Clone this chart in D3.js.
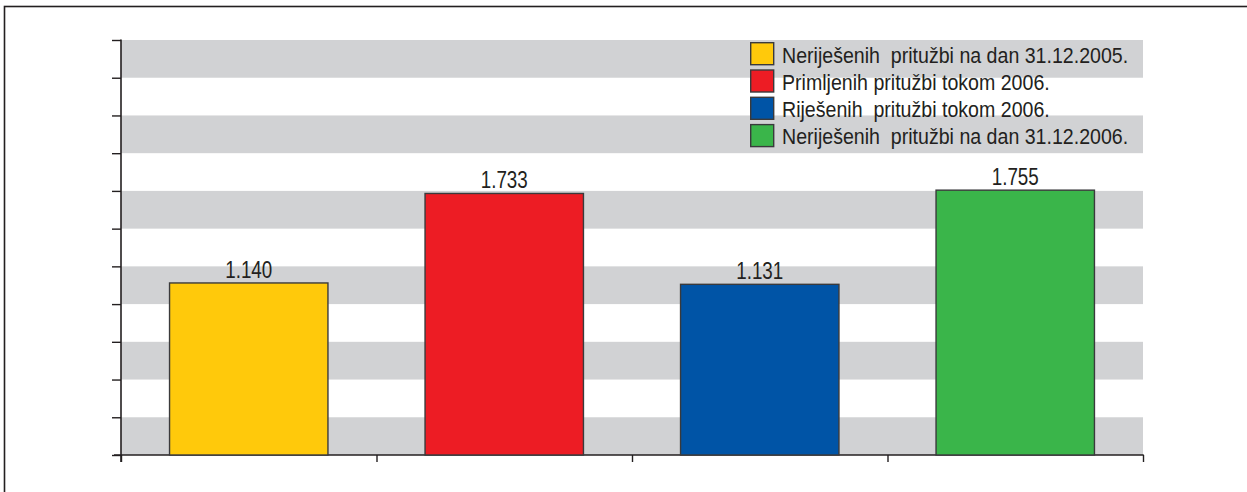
<!DOCTYPE html>
<html>
<head>
<meta charset="utf-8">
<script src="https://cdn.jsdelivr.net/npm/d3@7"></script>
<style>
  html, body { margin: 0; padding: 0; background: #fff; }
  svg { display: block; }
  text { font-family: "Liberation Sans", Arial, sans-serif; fill: #231f20; white-space: pre; }
</style>
</head>
<body>
<svg id="chart" width="1247" height="492"></svg>
<script>
// ---- data ----
const categories = [
  "Neriješenih  pritužbi na dan 31.12.2005.",
  "Primljenih pritužbi tokom 2006.",
  "Riješenih  pritužbi tokom 2006.",
  "Neriješenih  pritužbi na dan 31.12.2006."
];
const values = [1140, 1733, 1131, 1755];
const colors = ["#ffc90b", "#ed1c24", "#0054a6", "#3ab54a"];
const yTicks = [0, 250, 500, 750, 1000, 1250, 1500, 1750, 2000, 2250, 2500, 2750];

// ---- layout ----
const W = 1247, H = 492;
const plot = { left: 121, right: 1143, top: 40, bottom: 455 };
const svg = d3.select("#chart");

const fmt = d3.formatLocale({ decimal: ",", thousands: ".", grouping: [3], currency: ["", ""] }).format(",d");

const x = d3.scaleBand().domain(d3.range(categories.length))
  .range([plot.left, plot.right]).paddingInner(0.38).paddingOuter(0.19);
const y = d3.scaleLinear().domain([0, 2750]).range([plot.bottom, plot.top]);

// outer frame
svg.append("rect").attr("x", 4.5).attr("y", 6.5).attr("width", W + 10).attr("height", H + 10)
  .attr("fill", "none").attr("stroke", "#231f20").attr("stroke-width", 1.6);

// grey bands
const bandPairs = d3.pairs(yTicks).filter((d, i) => i % 2 === 0);
svg.append("g").selectAll("rect").data(bandPairs).join("rect")
  .attr("x", plot.left).attr("width", plot.right - plot.left)
  .attr("y", d => y(d[1])).attr("height", d => y(d[0]) - y(d[1]))
  .attr("fill", "#d1d2d4");

// y axis
const yAxis = d3.axisLeft(y).tickValues(yTicks).tickSize(9).tickFormat("");
const gy = svg.append("g").attr("transform", `translate(${plot.left},0)`).call(yAxis);
gy.select(".domain").remove();
gy.selectAll(".tick line").attr("stroke", "#231f20").attr("stroke-width", 1.4);
svg.append("line").attr("x1", plot.left).attr("x2", plot.left)
  .attr("y1", plot.top - 0.5).attr("y2", plot.bottom + 7)
  .attr("stroke", "#231f20").attr("stroke-width", 1.6);

// x axis
const step = x.step();
const boundaries = d3.range(categories.length + 1).map(i => plot.left + i * step);
const xb = d3.scaleLinear().domain([plot.left, plot.right]).range([plot.left, plot.right]);
const xAxis = d3.axisBottom(xb).tickValues(boundaries).tickSize(7).tickFormat("");
const gx = svg.append("g").attr("transform", `translate(0,${plot.bottom})`).call(xAxis);
gx.select(".domain").remove();
gx.selectAll(".tick line").attr("stroke", "#231f20").attr("stroke-width", 1.4);
svg.append("line").attr("x1", plot.left - 7).attr("x2", plot.right + 0.7)
  .attr("y1", plot.bottom).attr("y2", plot.bottom)
  .attr("stroke", "#231f20").attr("stroke-width", 1.6);

// bars
svg.append("g").selectAll("rect").data(values).join("rect")
  .attr("x", (d, i) => x(i)).attr("width", x.bandwidth())
  .attr("y", d => y(d)).attr("height", d => y(0) - y(d))
  .attr("fill", (d, i) => colors[i])
  .attr("stroke", "#3a3a3c").attr("stroke-width", 1.4);

// value labels
svg.append("g").selectAll("text").data(values).join("text")
  .attr("transform", (d, i) => `translate(${x(i) + x.bandwidth() / 2},${y(d) - 5}) scale(0.8,1)`)
  .attr("text-anchor", "middle").attr("font-size", 23.5)
  .text(d => fmt(d));

// legend
const leg = svg.append("g").attr("transform", "translate(750,42)");
const rowH = 27.3;
const li = leg.selectAll("g").data(categories).join("g")
  .attr("transform", (d, i) => `translate(0,${i * rowH})`);
li.append("rect").attr("x", 0.7).attr("y", 0.7).attr("width", 23).attr("height", 22)
  .attr("fill", (d, i) => colors[i]).attr("stroke", "#3a3a3c").attr("stroke-width", 1.4);
li.append("text").attr("transform", "translate(32,20.5) scale(0.907,1)")
  .attr("font-size", 21.6).text(d => d);
</script>
</body>
</html>
